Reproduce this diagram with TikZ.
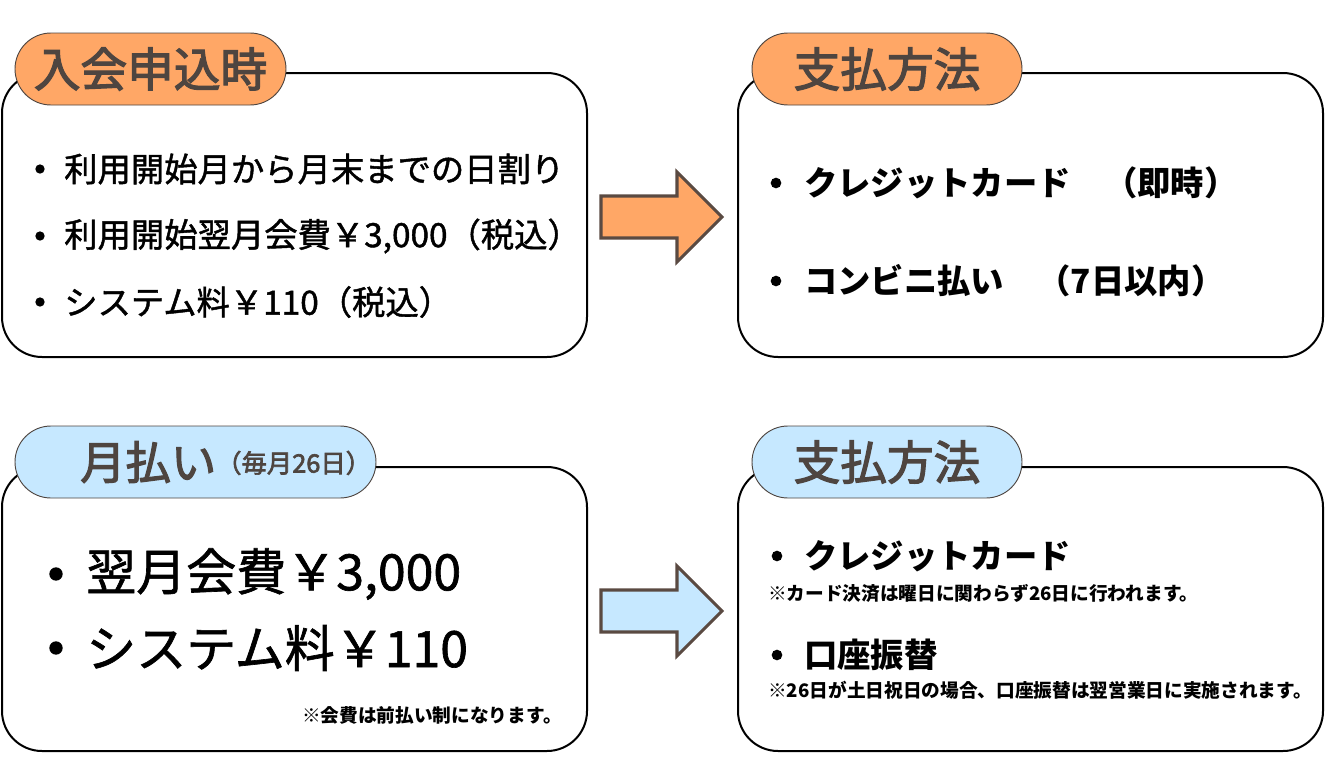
\documentclass[tikz,border=0pt]{standalone}
\usepackage{fontspec}
\setmainfont{Noto Sans CJK JP}
\newfontfamily\jpmid[FakeBold=1.3]{Noto Sans CJK JP}
\newfontfamily\jptab[FakeBold=2.6]{Noto Sans CJK JP}
\usepackage{xcolor}
\definecolor{TabOrange}{HTML}{FFA766}
\definecolor{TabBlue}{HTML}{C6E8FF}
\definecolor{TabInk}{HTML}{4E4540}
\definecolor{ArrowEdge}{HTML}{5A4A42}

\begin{document}
\begin{tikzpicture}[
x=0.75pt, y=-0.75pt,
Panel/.style={draw=black,line width=1.5pt,rounded corners=30pt,fill=white,
  minimum width=438.75pt,minimum height=213pt,inner sep=0pt},
TabShape/.style={draw=TabInk,line width=0.7pt,rounded corners=27pt,
  minimum height=54pt,inner sep=0pt},
TabText/.style={text=TabInk,inner sep=0pt,font=\jptab\fontsize{35pt}{40pt}\selectfont},
Item/.style={anchor=west,inner sep=0pt,font=\jpmid\fontsize{25pt}{28pt}\selectfont},
BoldItem/.style={anchor=west,inner sep=0pt,font=\fontsize{25pt}{28pt}\selectfont\bfseries},
BigItem/.style={anchor=west,inner sep=0pt,font=\jpmid\fontsize{37.5pt}{40pt}\selectfont},
Note/.style={inner sep=0pt,font=\fontsize{14pt}{16pt}\selectfont\bfseries},
Dot/.style={circle,fill=black,inner sep=0pt,minimum size=#1},
BlockArrow/.style={draw=ArrowEdge,line width=2.3pt,line join=miter}
]
\useasboundingbox (0,0) rectangle (1325,768);

% the four panels
\node[Panel] (joinbox) at (294.5,215) {};
\node[Panel] (joinpay) at (1030.5,215) {};
\node[Panel] (monthbox) at (294.5,609) {};
\node[Panel] (monthpay) at (1030.5,609) {};

% tabs over the top-left corners
\node[TabShape,fill=TabOrange,minimum width=203.25pt] (jointab) at (150.5,69) {};
\node[TabShape,fill=TabOrange,minimum width=202.5pt] (joinpaytab) at (887,69) {};
\node[TabShape,fill=TabBlue,minimum width=270.75pt] (monthtab) at (195.5,462) {};
\node[TabShape,fill=TabBlue,minimum width=202.5pt] (monthpaytab) at (887,462) {};

\node[TabText] (jointitle) at (jointab) {入会申込時};
\node[TabText] (joinpaytitle) at (joinpaytab) {支払方法};
\node[TabText,anchor=west] (monthtitle) at (80,462)
  {{\fontsize{34pt}{40pt}\selectfont 月払い}\raisebox{5pt}{\fontsize{19pt}{20pt}\selectfont （毎月26日）}};
\node[TabText] (monthpaytitle) at (monthpaytab) {支払方法};

% top left: on joining
\node[Dot=7pt] (dotJa) at (40,169) {};
\node[Item] (joinA) at (64,169) {利用開始月から月末までの日割り};
\node[Dot=7pt] (dotJb) at (40,236) {};
\node[Item] (joinB) at (64,236) {利用開始翌月会費￥3,000（税込）};
\node[Dot=7pt] (dotJc) at (40,302) {};
\node[Item] (joinC) at (64,302) {システム料￥110（税込）};

% top right: how to pay
\node[Dot=8pt] (dotPa) at (776,183) {};
\node[BoldItem] (payA) at (804,183) {クレジットカード　（即時）};
\node[Dot=8pt] (dotPb) at (776,281) {};
\node[BoldItem] (payB) at (804,281) {コンビニ払い　（7日以内）};

% bottom left: monthly
\node[Dot=10pt] (dotMa) at (56,574) {};
\node[BigItem] (monthA) at (86,574) {翌月会費￥3,000};
\node[Dot=10pt] (dotMb) at (56,648) {};
\node[BigItem] (monthB) at (86,648) {システム料￥110};
\node[Note,anchor=east] (monthnote) at (562,715) {※会費は前払い制になります。};

% bottom right: how to pay
\node[Dot=8pt] (dotQa) at (777,556) {};
\node[BoldItem] (cardA) at (804,556) {クレジットカード};
\node[Note,anchor=west] (cardnote) at (768,593) {※カード決済は曜日に関わらず26日に行われます。};
\node[Dot=8pt] (dotQb) at (777,655) {};
\node[BoldItem] (bankA) at (804,655) {口座振替};
\node[Note,anchor=west] (banknote) at (768,690) {※26日が土日祝日の場合、口座振替は翌営業日に実施されます。};

% block arrows
\draw[BlockArrow,fill=TabOrange] (601,196) -- (677,196) -- (677,172) -- (722,217)
  -- (677,262) -- (677,238) -- (601,238) -- cycle;
\draw[BlockArrow,fill=TabBlue] (601,590) -- (677,590) -- (677,566) -- (722,611)
  -- (677,656) -- (677,632) -- (601,632) -- cycle;

\end{tikzpicture}
\end{document}
